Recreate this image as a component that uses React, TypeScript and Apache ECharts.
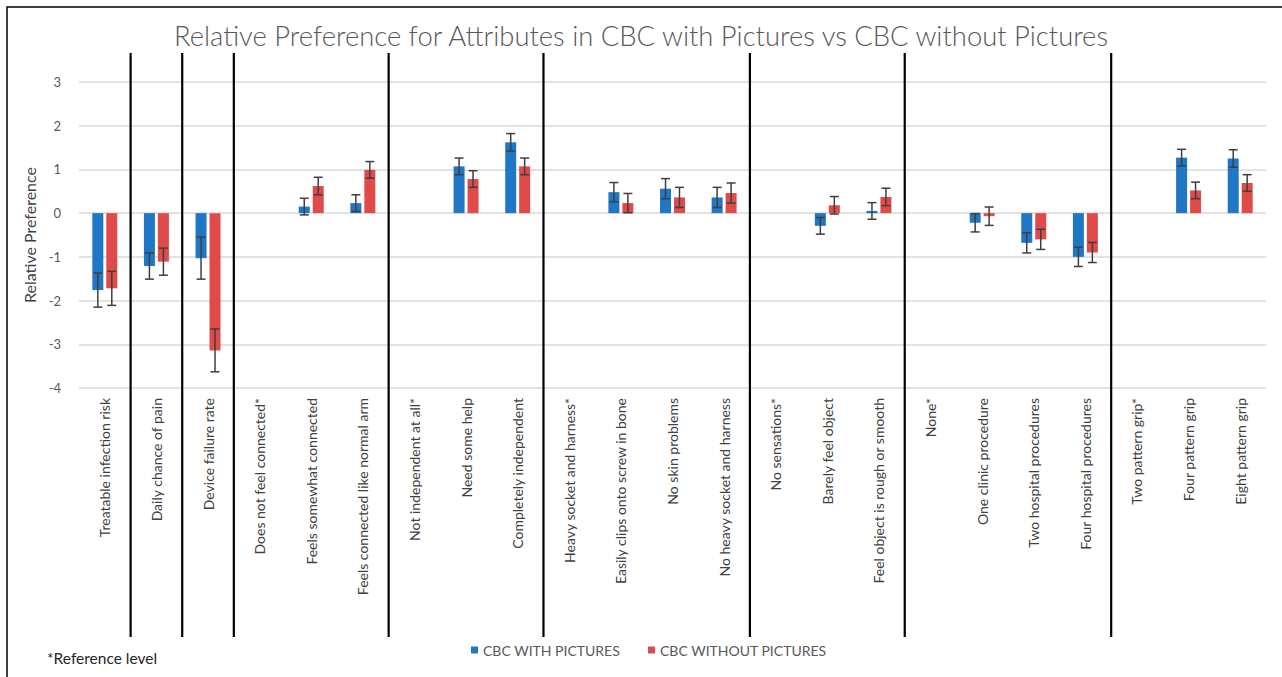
import React, { useEffect, useRef } from "react";
import * as echarts from "echarts";

const categories = [
  "Treatable infection risk",
  "Daily chance of pain",
  "Device failure rate",
  "Does not feel connected*",
  "Feels somewhat connected",
  "Feels connected like normal arm",
  "Not independent at all*",
  "Need some help",
  "Completely independent",
  "Heavy socket and harness*",
  "Easily clips onto screw in bone",
  "No skin problems",
  "No heavy socket and harness",
  "No sensations*",
  "Barely feel object",
  "Feel object is rough or smooth",
  "None*",
  "One clinic procedure",
  "Two hospital procedures",
  "Four hospital procedures",
  "Two pattern grip*",
  "Four pattern grip",
  "Eight pattern grip",
];

const withPictures = [
  -1.76, -1.21, -1.03, null, 0.15, 0.23, null, 1.07, 1.62, null, 0.48, 0.56,
  0.36, null, -0.29, 0.05, null, -0.22, -0.68, -1.0, null, 1.27, 1.25,
];
const withPicturesErr = [
  0.39, 0.3, 0.48, null, 0.19, 0.19, null, 0.19, 0.2, null, 0.22, 0.23, 0.23,
  null, 0.19, 0.19, null, 0.21, 0.23, 0.22, null, 0.19, 0.2,
];
const withoutPictures = [
  -1.72, -1.11, -3.14, null, 0.62, 0.99, null, 0.78, 1.07, null, 0.23, 0.36,
  0.46, null, 0.18, 0.37, null, -0.07, -0.6, -0.9, null, 0.52, 0.69,
];
const withoutPicturesErr = [
  0.39, 0.31, 0.49, null, 0.2, 0.19, null, 0.19, 0.19, null, 0.22, 0.23, 0.23,
  null, 0.2, 0.2, null, 0.21, 0.23, 0.23, null, 0.19, 0.19,
];

const seriesNames = ["CBC WITH PICTURES", "CBC WITHOUT PICTURES"];
const groupBreaks = [1, 2, 3, 6, 9, 13, 16, 20];
const titleText =
  "Relative Preference for Attributes in CBC with Pictures vs CBC without Pictures";
const yAxisName = "Relative Preference";
const footnote = "*Reference level";

const FONT = "Lato, 'Open Sans', sans-serif";
const BLUE = "#1F77C6";
const RED = "#E04A4B";
const BAR_W = 11;
const BAR_GAP = 0.27;

function errorSeries(values: (number | null)[], errs: (number | null)[], offset: number) {
  const data = values
    .map((v, i) => (v == null ? null : [i, v, errs[i] as number]))
    .filter((d) => d != null);
  return {
    type: "custom",
    name: "err" + offset,
    data,
    encode: { x: 0, y: 1 },
    z: 5,
    silent: true,
    renderItem: (params: any, api: any) => {
      const x = api.value(0);
      const v = api.value(1);
      const e = api.value(2);
      const hi = api.coord([x, v + e]);
      const lo = api.coord([x, v - e]);
      const cx = hi[0] + offset;
      const cap = 4.5;
      const style = { stroke: "#3f3f3f", lineWidth: 1.5 };
      return {
        type: "group",
        children: [
          { type: "line", shape: { x1: cx, y1: hi[1], x2: cx, y2: lo[1] }, style },
          { type: "line", shape: { x1: cx - cap, y1: hi[1], x2: cx + cap, y2: hi[1] }, style },
          { type: "line", shape: { x1: cx - cap, y1: lo[1], x2: cx + cap, y2: lo[1] }, style },
        ],
      };
    },
  };
}

export default function App() {
  const ref = useRef<HTMLDivElement>(null);
  useEffect(() => {
    document.body.style.margin = "0";
    if (!ref.current) return;
    const chart = echarts.init(ref.current, undefined, { renderer: "svg" });
    const off = (BAR_W + BAR_W * BAR_GAP) / 2;
    chart.setOption({
      animation: false,
      backgroundColor: "#ffffff",
      title: {
        text: titleText,
        left: "center",
        top: 17,
        textStyle: { fontFamily: FONT, fontSize: 27.4, fontWeight: 300, color: "#595959" },
      },
      legend: {
        data: seriesNames,
        left: 466,
        top: 638,
        icon: "rect",
        itemWidth: 7,
        itemHeight: 7,
        itemGap: 28,
        textStyle: { fontFamily: FONT, fontSize: 14, color: "#595959" },
      },
      grid: { left: 79, right: 16, top: 82, bottom: 289 },
      xAxis: {
        type: "category",
        data: categories,
        axisLine: { show: false },
        axisTick: { show: false },
        axisLabel: {
          rotate: 90,
          interval: 0,
          margin: 10,
          fontFamily: FONT,
          fontSize: 14,
          color: "#404040",
        },
      },
      yAxis: {
        type: "value",
        min: -4,
        max: 3,
        interval: 1,
        name: yAxisName,
        nameLocation: "middle",
        nameGap: 34,
        nameTextStyle: { fontFamily: FONT, fontSize: 16, color: "#404040" },
        axisLine: { show: false },
        axisTick: { show: false },
        axisLabel: { fontFamily: FONT, fontSize: 13, color: "#595959", margin: 18 },
        splitLine: { lineStyle: { color: "#d9d9d9", width: 1.5 } },
      },
      series: [
        {
          name: seriesNames[0],
          type: "bar",
          data: withPictures,
          barWidth: BAR_W,
          barGap: BAR_GAP * 100 + "%",
          itemStyle: { color: BLUE },
        },
        {
          name: seriesNames[1],
          type: "bar",
          data: withoutPictures,
          barWidth: BAR_W,
          barGap: BAR_GAP * 100 + "%",
          itemStyle: { color: RED },
        },
        errorSeries(withPictures, withPicturesErr, -off),
        errorSeries(withoutPictures, withoutPicturesErr, off),
        {
          type: "custom",
          name: "separators",
          data: groupBreaks.map((b) => [b, 0]),
          encode: { x: 0, y: 1 },
          z: 6,
          silent: true,
          renderItem: (params: any, api: any) => {
            const b = api.value(0);
            const half = api.size([1, 0])[0] / 2;
            const x = api.coord([b, 0])[0] - half;
            const yTop = api.coord([0, 3])[1] - 29;
            const yBot = api.coord([0, -4])[1] + 249;
            return {
              type: "line",
              shape: { x1: x, y1: yTop, x2: x, y2: yBot },
              style: { stroke: "#000000", lineWidth: 2.2 },
            };
          },
        },
      ],
      graphic: [
        {
          type: "rect",
          shape: { x: 7, y: 7, width: 1300, height: 700 },
          style: { fill: "none", stroke: "#000000", lineWidth: 1.5 },
          silent: true,
        },
        {
          type: "text",
          left: 47,
          top: 650,
          style: { text: footnote, fontFamily: FONT, fontSize: 15.5, fill: "#262626" },
        },
      ],
    });
    return () => chart.dispose();
  }, []);
  return <div ref={ref} style={{ width: 1282, height: 677 }} />;
}
